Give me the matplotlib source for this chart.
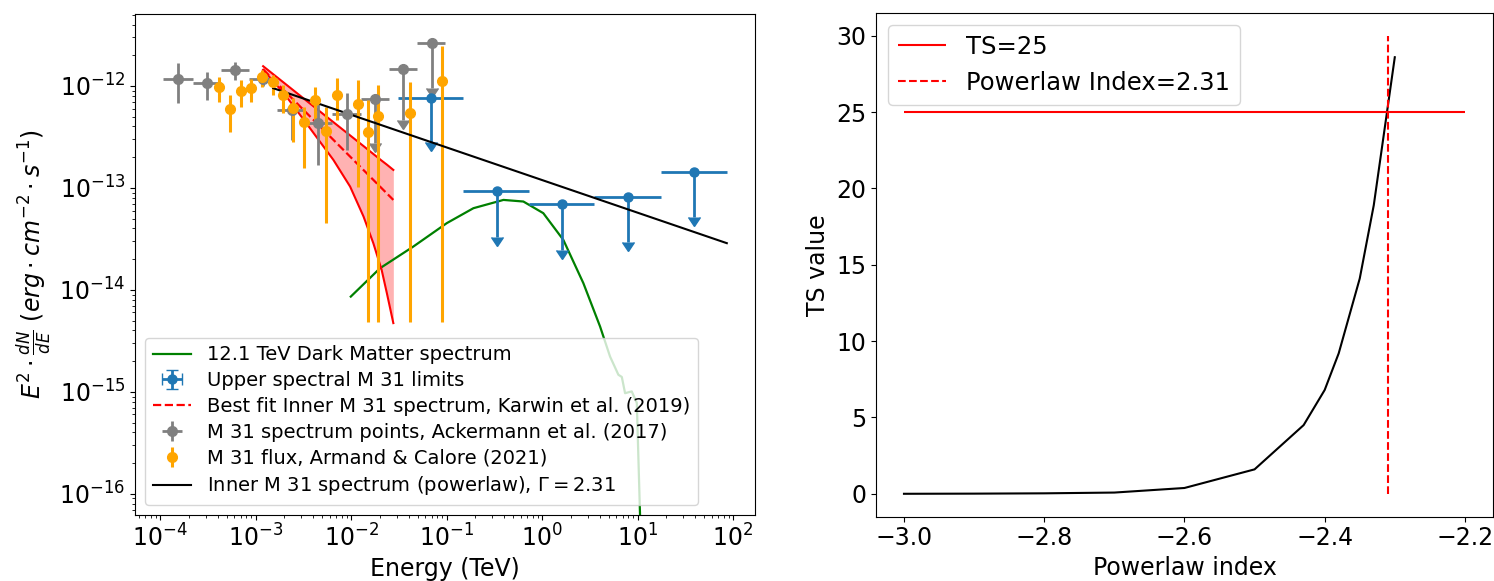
import matplotlib
matplotlib.use("Agg")
import matplotlib.pyplot as plt
import numpy as np

# ---- left panel data (energies in TeV, E^2 dN/dE in erg cm^-2 s^-1) ----
# 12.1 TeV dark matter spectrum
dm_energy = [9.93e-3, 2.01e-2, 4.49e-2, 0.1005, 0.191, 0.394, 0.637, 1.03, 1.67,
             2.71, 4.05, 5.15, 6.30, 6.84, 7.40, 8.69, 9.82, 10.6, 10.9]
dm_flux = [8.59e-15, 1.63e-14, 2.66e-14, 4.51e-14, 6.32e-14, 7.62e-14, 7.35e-14,
           5.65e-14, 3.09e-14, 1.16e-14, 4.37e-15, 2.22e-15, 1.47e-15, 1.40e-15,
           9.7e-16, 1.01e-15, 7.8e-16, 6.5e-17, 2.0e-17]

# upper limits
ul_energy = [6.84e-2, 0.340, 1.63, 7.89, 39.4]
ul_e_lo = [3.13e-2, 0.150, 0.736, 3.53, 17.5]
ul_e_hi = [0.150, 0.736, 3.53, 17.5, 85.9]
ul_flux = [7.57e-13, 9.42e-14, 6.97e-14, 8.22e-14, 1.43e-13]
ul_arrow_end = [2.84e-13, 3.33e-14, 2.47e-14, 2.98e-14, 5.24e-14]

# Karwin et al. (2019) inner M31 fit and band
fit_energy = [1.20e-3, 2.04e-3, 3.44e-3, 6.53e-3, 9.77e-3, 1.35e-2, 1.71e-2,
              2.09e-2, 2.37e-2, 2.77e-2]
fit_upper = [1.56e-12, 1.05e-12, 7.11e-13, 4.41e-13, 3.27e-13, 2.57e-13, 2.15e-13,
             1.85e-13, 1.69e-13, 1.50e-13]
fit_lower = [1.44e-12, 8.17e-13, 4.24e-13, 1.88e-13, 1.03e-13, 5.24e-14, 2.87e-14,
             1.57e-14, 9.29e-15, 4.72e-15]
best_energy = [1.20e-3, 2.77e-2]
best_flux = [1.45e-12, 7.62e-14]

# Ackermann et al. (2017) points
ack_energy = [1.556e-4, 3.13e-4, 6.09e-4, 1.20e-3, 2.41e-3, 4.55e-3, 9.02e-3,
              1.78e-2, 3.53e-2, 7.0e-2]
ack_e_lo = [1.08e-4, 2.23e-4, 4.33e-4, 8.6e-4, 1.68e-3, 3.3e-3, 6.3e-3,
            1.27e-2, 2.5e-2, 4.9e-2]
ack_e_hi = [2.23e-4, 4.33e-4, 8.6e-4, 1.68e-3, 3.3e-3, 6.3e-3, 1.27e-2,
            2.5e-2, 4.9e-2, 9.6e-2]
ack_flux = [1.165e-12, 1.077e-12, 1.44e-12, 1.17e-12, 5.82e-13, 4.31e-13, 5.31e-13,
            7.46e-13, 1.46e-12, 2.66e-12]
ack_f_lo = [6.76e-13, 7.3e-13, 1.15e-12, 1.0e-12, 2.95e-13, 1.68e-13, 2.36e-13,
            2.76e-13, 4.64e-13, 9.5e-13]
ack_f_hi = [1.67e-12, 1.38e-12, 1.70e-12, 1.35e-12, 6.8e-13, 7.85e-13, 8.5e-13,
            7.46e-13, 1.46e-12, 2.66e-12]
ack_is_ul = [False, False, False, False, False, False, False, True, True, True]

# Armand & Calore (2021) flux
ac_energy = [4.18e-4, 5.41e-4, 7.05e-4, 8.91e-4, 1.16e-3, 1.51e-3, 1.93e-3, 2.49e-3,
             3.24e-3, 4.20e-3, 5.47e-3, 7.08e-3, 1.17e-2, 1.50e-2, 1.93e-2,
             4.15e-2, 8.91e-2]
ac_flux = [9.71e-13, 5.91e-13, 8.93e-13, 9.49e-13, 1.23e-12, 1.10e-12, 8.16e-13,
           6.04e-13, 4.46e-13, 7.29e-13, 3.65e-13, 8.16e-13, 6.59e-13, 3.54e-13,
           5.08e-13, 5.47e-13, 1.12e-12]
ac_f_lo = [7.02e-13, 3.56e-13, 6.27e-13, 7.02e-13, 9.85e-13, 8.16e-13, 5.40e-13,
           2.84e-13, 1.56e-13, 4.15e-13, 4.54e-14, 4.64e-13, 1.03e-13, 4.8e-15,
           4.8e-15, 4.8e-15, 4.8e-15]
ac_f_hi = [1.23e-12, 8.16e-13, 1.15e-12, 1.16e-12, 1.44e-12, 1.28e-12, 1.02e-12,
           7.57e-13, 6.27e-13, 9.85e-13, 6.27e-13, 1.20e-12, 1.15e-12, 7.29e-13,
           1.02e-12, 1.10e-12, 2.47e-12]

# inner M31 power law
pl_energy = [1.53e-3, 86.0]
pl_flux = [9.5e-13, 2.87e-14]

# ---- right panel data ----
index = [-3.0, -2.9, -2.8, -2.7, -2.6, -2.5, -2.43, -2.4, -2.38, -2.35, -2.33, -2.3]
ts = [0.0, 0.01, 0.03, 0.08, 0.38, 1.6, 4.5, 6.8, 9.2, 14.1, 18.9, 28.6]
ts_threshold = 25
best_index = -2.31

plt.rcParams['font.size'] = 17

fig = plt.figure(figsize=(14.94, 5.81), dpi=100)
ax1 = fig.add_axes([0.0904, 0.1136, 0.415, 0.862])
ax2 = fig.add_axes([0.5863, 0.1107, 0.413, 0.867])

# ---- left panel ----
l_dm, = ax1.plot(dm_energy, dm_flux, color='green', lw=1.6)

ul_energy = np.array(ul_energy)
ul_flux = np.array(ul_flux)
eb_ul = ax1.errorbar(ul_energy, ul_flux,
                     xerr=[ul_energy - np.array(ul_e_lo), np.array(ul_e_hi) - ul_energy],
                     yerr=ul_flux - np.array(ul_arrow_end), uplims=True,
                     fmt='o', color='C0', ms=6.5, lw=2)
for c in eb_ul[1]:
    c.set_markersize(9)

ax1.fill_between(fit_energy, fit_lower, fit_upper, color='red', alpha=0.3, lw=0)
ax1.plot(fit_energy, fit_upper, color='red', lw=1.5)
ax1.plot(fit_energy, fit_lower, color='red', lw=1.5)
l_best, = ax1.plot(best_energy, best_flux, color='red', ls='--', lw=1.6)

ack_energy = np.array(ack_energy)
ack_flux = np.array(ack_flux)
ul_mask = np.array(ack_is_ul)
xe = [ack_energy - np.array(ack_e_lo), np.array(ack_e_hi) - ack_energy]
ye = [ack_flux - np.array(ack_f_lo), np.array(ack_f_hi) - ack_flux]
eb_ack = ax1.errorbar(ack_energy[~ul_mask], ack_flux[~ul_mask],
                      xerr=[xe[0][~ul_mask], xe[1][~ul_mask]],
                      yerr=[ye[0][~ul_mask], ye[1][~ul_mask]],
                      fmt='o', color='grey', ms=7, lw=2)
eb_ack_ul = ax1.errorbar(ack_energy[ul_mask], ack_flux[ul_mask],
                         xerr=[xe[0][ul_mask], xe[1][ul_mask]],
                         yerr=ack_flux[ul_mask] - np.array(ack_f_lo)[ul_mask],
                         uplims=True, fmt='o', color='grey', ms=7, lw=2)
for c in eb_ack_ul[1]:
    c.set_markersize(9)

ac_flux = np.array(ac_flux)
eb_ac = ax1.errorbar(ac_energy, ac_flux,
                     yerr=[ac_flux - np.array(ac_f_lo), np.array(ac_f_hi) - ac_flux],
                     fmt='o', color='orange', ms=7, lw=2.2)

l_pl, = ax1.plot(pl_energy, pl_flux, color='black', lw=1.5)

ax1.set_xscale('log')
ax1.set_yscale('log')
ax1.set_xlim(5.47e-5, 170)
ax1.set_ylim(6.2e-17, 5.05e-12)
ax1.set_xlabel('Energy (TeV)')
ax1.set_ylabel(r'$E^2 \cdot \frac{dN}{dE}$ $(erg \cdot cm^{-2} \cdot s^{-1})$')
ax1.legend([l_dm, eb_ul, l_best, eb_ack, eb_ac, l_pl],
           ['12.1 TeV Dark Matter spectrum',
            'Upper spectral M 31 limits',
            'Best fit Inner M 31 spectrum, Karwin et al. (2019)',
            'M 31 spectrum points, Ackermann et al. (2017)',
            'M 31 flux, Armand & Calore (2021)',
            r'Inner M 31 spectrum (powerlaw), $\Gamma=2.31$'],
           loc='lower left', fontsize=14, labelspacing=0.35)

# ---- right panel ----
ax2.plot(index, ts, color='black', lw=1.5)
ax2.hlines(ts_threshold, -3.0, -2.2, color='red', lw=1.5, label='TS=25')
ax2.vlines(best_index, 0, 30, color='red', ls='--', lw=1.5,
           label='Powerlaw Index=2.31')
ax2.set_xlim(-3.04, -2.16)
ax2.set_ylim(-1.5, 31.5)
ax2.set_xticks([-3.0, -2.8, -2.6, -2.4, -2.2])
ax2.set_yticks([0, 5, 10, 15, 20, 25, 30])
ax2.set_xlabel('Powerlaw index')
ax2.set_ylabel('TS value')
ax2.legend(loc='upper left', fontsize=17.5)

fig.savefig('out.png', dpi=100)
